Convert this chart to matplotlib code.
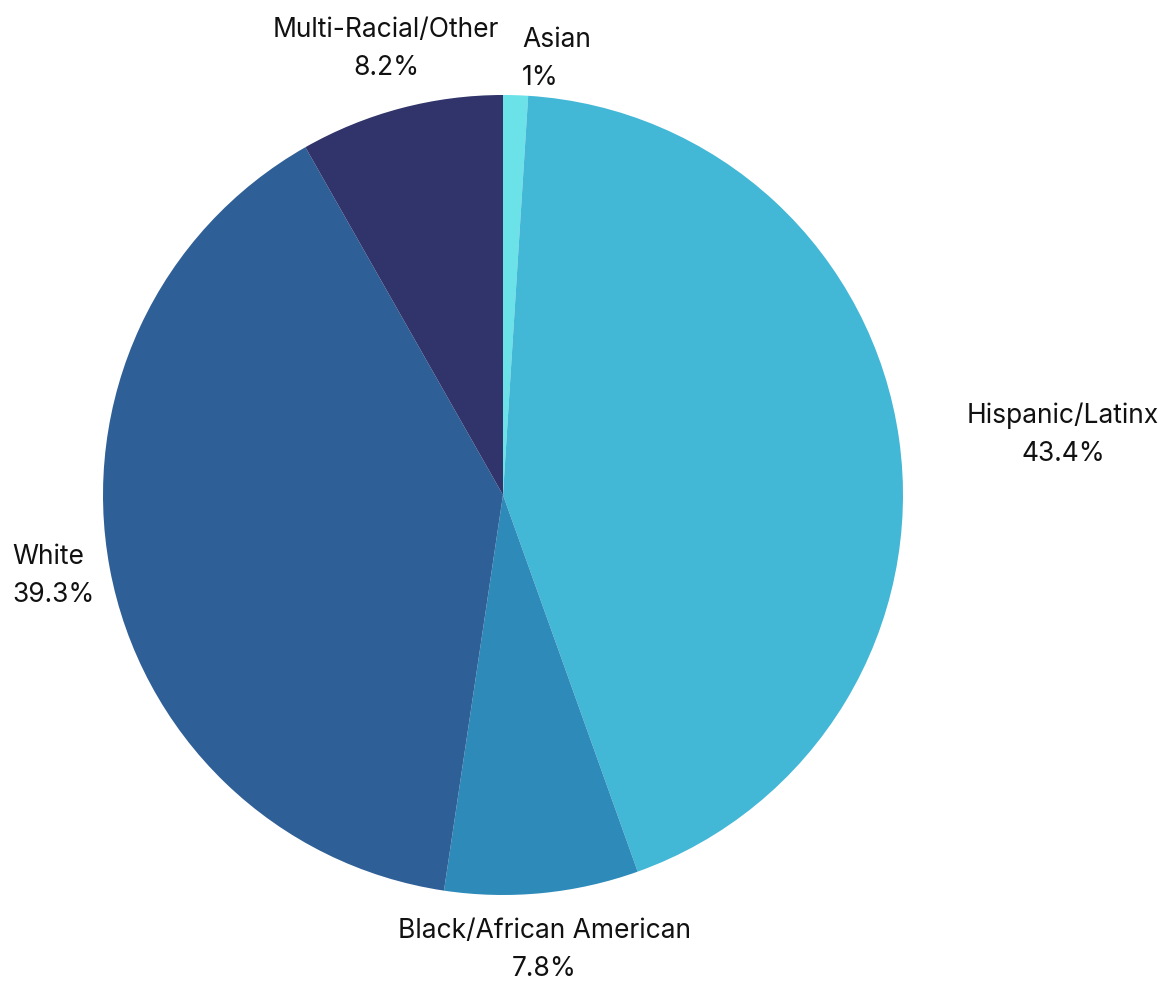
import matplotlib.pyplot as plt

# values, clockwise from the top
groups = ['Asian', 'Hispanic/Latinx', 'Black/African American', 'White', 'Multi-Racial/Other']
shares = [1.0, 43.4, 7.8, 39.3, 8.2]
share_labels = ['1%', '43.4%', '7.8%', '39.3%', '8.2%']
colors = ['#6ae2e8', '#43b7d6', '#2e8bb9', '#2f5f97', '#30346a']

plt.rcParams['font.family'] = ['Inter', 'DejaVu Sans']

W, H = 1171, 983
fig = plt.figure(figsize=(W / 100, H / 100), dpi=100)
# pie centred at (503, 495) px with a 400 px radius
ax = fig.add_axes([103 / W, (H - 895) / H, 800 / W, 800 / H])
ax.pie(shares, colors=colors, startangle=90, counterclock=False, radius=1,
       wedgeprops=dict(linewidth=0))
ax.set_xlim(-1, 1)
ax.set_ylim(-1, 1)
ax.set_aspect('equal')
ax.axis('off')


def px(x, y):
    return (x - 503) / 400, (495 - y) / 400


# label anchor (px) and alignment for each slice
label_pos = [(522, 40, 'left'), (1063, 416, 'center'), (544, 931, 'center'),
             (12, 557, 'left'), (386, 30, 'center')]
for name, pct, (x, y, ha) in zip(groups, share_labels, label_pos):
    x0, y0 = px(x, y)
    x1, y1 = px(x, y + 38)
    ax.text(x0, y0, name, ha=ha, va='center', fontsize=19, color='#111111', clip_on=False)
    ax.text(x1, y1, pct, ha=ha, va='center', fontsize=19, color='#111111', clip_on=False)

fig.savefig('out.png', dpi=100, facecolor='white')
